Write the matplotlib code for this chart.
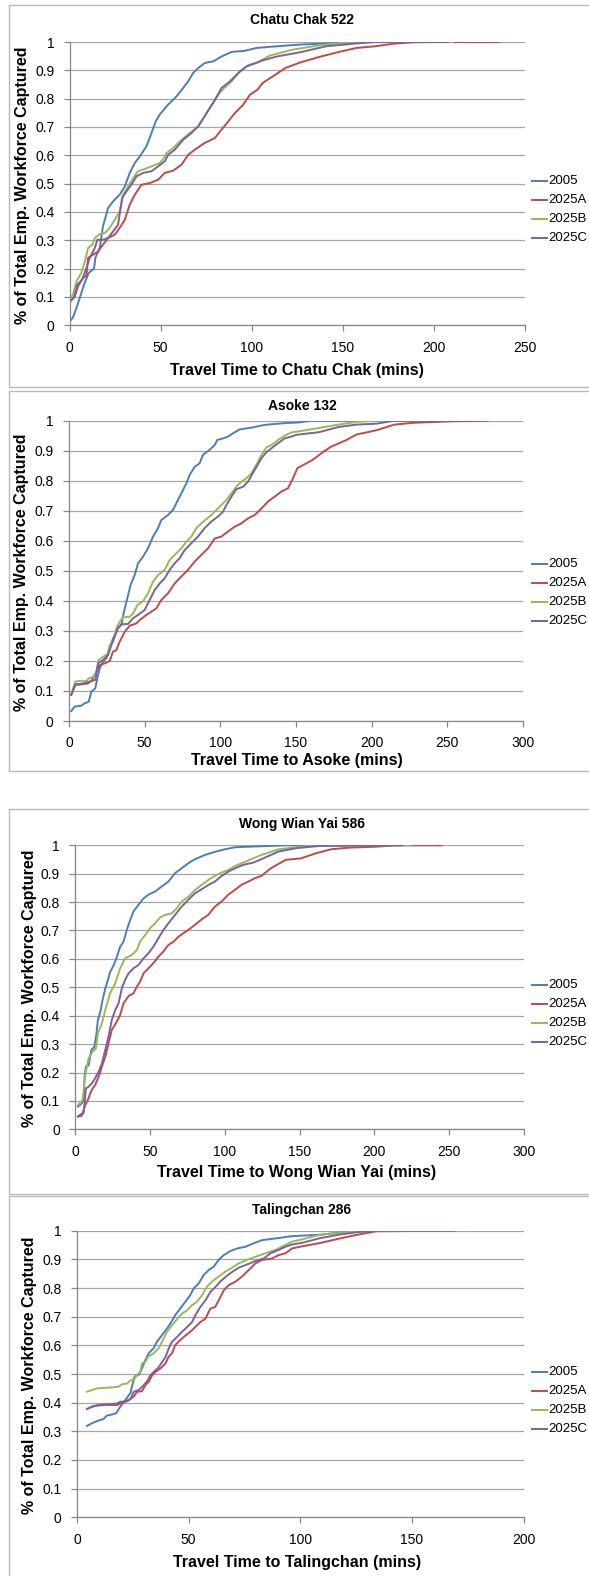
import matplotlib
matplotlib.use('Agg')
import matplotlib.pyplot as plt
from matplotlib.patches import Rectangle

plt.rcParams['font.family'] = ['Liberation Sans', 'DejaVu Sans']

# ---- data (minutes, share captured) ----
series_names = ['2005', '2025A', '2025B', '2025C']
series_colors = ['#4A7EBB', '#BE4B48', '#98B954', '#7D60A0']

# Chatu Chak 522
chatu_2005_t = [0.4, 1.8, 3.7, 5.5, 7.9, 10.5, 13.4, 14.1, 16.5, 18.3, 21.1, 23.9, 27.5, 30.3, 33.0, 35.8, 38.5, 42.2, 45.0, 47.3, 49.5, 54.1, 58.7, 62.4, 65.1, 67.9, 70.6, 74.3, 79.0, 83.5, 89.0, 96.3, 102.8, 110, 126.8, 147, 160, 200]
chatu_2005_p = [0.016, 0.028, 0.061, 0.096, 0.144, 0.185, 0.20, 0.238, 0.273, 0.35, 0.414, 0.438, 0.461, 0.49, 0.538, 0.573, 0.596, 0.632, 0.679, 0.72, 0.744, 0.779, 0.808, 0.838, 0.861, 0.891, 0.908, 0.926, 0.932, 0.949, 0.965, 0.969, 0.979, 0.983, 0.991, 0.996, 1.0, 1.0]
chatu_a_t = [0.4, 2.8, 4.6, 7.3, 9.2, 10.1, 12.8, 15.6, 18.3, 21.1, 24.8, 27.5, 30.3, 33.0, 35.8, 39.4, 44.0, 48.6, 52.3, 56.9, 61.5, 65.1, 68.8, 74.3, 79.8, 83.5, 87.2, 90.8, 95.4, 99.1, 103.3, 106, 110.3, 118.5, 126.8, 137, 147.4, 157.7, 168, 178, 188.7, 200, 235.6]
chatu_a_p = [0.085, 0.102, 0.138, 0.167, 0.176, 0.238, 0.249, 0.261, 0.285, 0.308, 0.32, 0.344, 0.373, 0.426, 0.461, 0.496, 0.502, 0.514, 0.538, 0.546, 0.567, 0.602, 0.62, 0.644, 0.661, 0.691, 0.72, 0.749, 0.779, 0.814, 0.832, 0.855, 0.873, 0.908, 0.928, 0.947, 0.964, 0.979, 0.985, 0.994, 0.999, 1.0, 1.0]
chatu_b_t = [0.4, 1.8, 3.7, 6.4, 8.6, 10.1, 12.5, 13.8, 16.5, 19.3, 22.0, 24.8, 27.5, 29.4, 32.1, 34.9, 37.6, 41.3, 45.0, 49.5, 51.9, 53.2, 56.9, 61.5, 66.1, 70.6, 74.3, 78.0, 81.7, 85.3, 89.0, 93.6, 98.2, 103.7, 106, 110, 122.6, 137, 151.5, 160, 210]
chatu_b_p = [0.096, 0.108, 0.155, 0.185, 0.232, 0.273, 0.285, 0.308, 0.322, 0.326, 0.344, 0.373, 0.402, 0.461, 0.491, 0.52, 0.544, 0.552, 0.561, 0.573, 0.591, 0.608, 0.626, 0.655, 0.679, 0.702, 0.738, 0.779, 0.814, 0.84, 0.861, 0.896, 0.918, 0.929, 0.938, 0.952, 0.973, 0.988, 0.998, 1.0, 1.0]
chatu_c_t = [0.4, 2.4, 4.2, 6.8, 9.2, 11.0, 13.8, 15.2, 18.3, 21.1, 23.9, 26.6, 28.8, 31.2, 33.9, 36.7, 40.4, 45.0, 48.6, 52.3, 54.1, 57.8, 62.4, 67.0, 70.6, 75.2, 78.9, 83.5, 88.1, 92.7, 97.2, 103.7, 106, 114, 126.8, 141, 157.7, 168, 208]
chatu_c_p = [0.085, 0.099, 0.144, 0.161, 0.202, 0.238, 0.273, 0.302, 0.302, 0.308, 0.332, 0.355, 0.449, 0.473, 0.496, 0.526, 0.538, 0.544, 0.561, 0.579, 0.602, 0.62, 0.655, 0.679, 0.702, 0.749, 0.785, 0.838, 0.861, 0.891, 0.914, 0.929, 0.935, 0.949, 0.964, 0.985, 0.995, 1.0, 1.0]

# Asoke 132
asoke_2005_t = [1.5, 3.7, 8.1, 10.4, 13.0, 14.8, 17.4, 18.7, 20.3, 22.5, 24.7, 26.9, 29.1, 32.4, 34.6, 36.3, 38.5, 40.7, 43.4, 45.6, 48.9, 52.2, 55.5, 58.8, 61.0, 65.4, 68.7, 70.9, 74.2, 77.6, 79.8, 83.1, 86.3, 88.5, 92.9, 96.3, 98.0, 101.8, 105.0, 108.4, 112.8, 120.5, 129.3, 142.5, 151.3, 160, 220]
asoke_2005_p = [0.033, 0.048, 0.051, 0.059, 0.064, 0.098, 0.109, 0.142, 0.175, 0.198, 0.209, 0.242, 0.275, 0.309, 0.32, 0.364, 0.408, 0.453, 0.486, 0.525, 0.547, 0.575, 0.614, 0.642, 0.669, 0.686, 0.703, 0.725, 0.758, 0.792, 0.82, 0.847, 0.858, 0.886, 0.903, 0.919, 0.936, 0.941, 0.947, 0.958, 0.971, 0.977, 0.986, 0.992, 0.994, 1.0, 1.0]
asoke_a_t = [1.5, 4.2, 8.1, 12.6, 15.2, 18.1, 20.3, 23.6, 26.9, 29.1, 31.3, 33.5, 36.8, 40.1, 44.5, 46.7, 51.1, 54.4, 57.7, 61.0, 65.4, 69.8, 74.2, 78.6, 83.1, 87.4, 91.9, 96.3, 100.7, 105.0, 109.5, 113.9, 118.3, 122.7, 127.2, 131.5, 135.9, 140.3, 144.7, 148.0, 150.9, 160.5, 168, 173, 183, 190, 203, 215, 227.5, 252, 276.7]
asoke_a_p = [0.087, 0.12, 0.122, 0.125, 0.137, 0.164, 0.186, 0.192, 0.2, 0.231, 0.236, 0.264, 0.297, 0.317, 0.325, 0.336, 0.353, 0.364, 0.375, 0.403, 0.425, 0.458, 0.481, 0.503, 0.531, 0.553, 0.575, 0.608, 0.614, 0.631, 0.647, 0.658, 0.675, 0.686, 0.708, 0.731, 0.747, 0.764, 0.775, 0.808, 0.842, 0.868, 0.896, 0.913, 0.935, 0.954, 0.968, 0.987, 0.993, 0.998, 1.0]
asoke_b_t = [1.5, 4.2, 5.9, 11.5, 13.0, 16.5, 18.1, 19.6, 22.5, 25.3, 26.9, 29.1, 31.3, 33.5, 35.7, 40.1, 42.3, 45.2, 48.9, 52.2, 55.5, 58.8, 63.2, 66.5, 69.8, 74.2, 77.5, 80.8, 84.1, 87.4, 90.7, 94.1, 97.4, 100.7, 104.0, 107.3, 110.6, 114.0, 117.2, 120.5, 123.8, 127.2, 130.4, 134.8, 138.1, 142.5, 146.9, 151.3, 165.5, 178, 190, 203, 210]
asoke_b_p = [0.089, 0.131, 0.133, 0.133, 0.142, 0.148, 0.164, 0.203, 0.214, 0.222, 0.253, 0.264, 0.309, 0.331, 0.345, 0.347, 0.358, 0.386, 0.399, 0.425, 0.464, 0.486, 0.503, 0.536, 0.553, 0.575, 0.597, 0.614, 0.642, 0.658, 0.672, 0.686, 0.703, 0.719, 0.736, 0.758, 0.781, 0.797, 0.808, 0.825, 0.853, 0.886, 0.911, 0.922, 0.936, 0.95, 0.961, 0.964, 0.976, 0.987, 0.996, 1.0, 1.0]
asoke_c_t = [1.5, 4.2, 9.3, 13.6, 17.4, 19.2, 22.5, 25.8, 28.0, 30.2, 32.4, 34.6, 39.0, 42.3, 45.6, 50.0, 53.3, 56.6, 59.9, 63.2, 66.5, 69.8, 73.1, 76.4, 80.8, 85.2, 89.6, 94.0, 98.5, 101.8, 104.0, 107.3, 110.6, 115.0, 118.3, 122.7, 127.2, 130.4, 133.7, 138.1, 142.5, 146.9, 150.2, 165.5, 178, 190, 203, 215, 250]
asoke_c_p = [0.087, 0.122, 0.125, 0.131, 0.137, 0.192, 0.203, 0.22, 0.253, 0.281, 0.309, 0.322, 0.323, 0.342, 0.353, 0.37, 0.403, 0.436, 0.458, 0.475, 0.503, 0.525, 0.542, 0.569, 0.592, 0.614, 0.642, 0.664, 0.681, 0.697, 0.719, 0.747, 0.772, 0.78, 0.797, 0.836, 0.875, 0.895, 0.908, 0.925, 0.941, 0.947, 0.953, 0.962, 0.979, 0.987, 0.99, 1.0, 1.0]

# Wong Wian Yai 586
wong_2005_t = [1.8, 4.4, 5.6, 6.2, 7.1, 8.9, 10.7, 12.7, 14.0, 15.1, 16.7, 18.2, 20.0, 21.8, 23.3, 25.6, 27.8, 30.0, 32.2, 34.4, 36.7, 38.9, 42.2, 45.6, 48.9, 53.3, 57.8, 62.2, 66.7, 71.1, 75.6, 80.0, 86.7, 93.3, 100.0, 106.7, 115.6, 141, 180]
wong_2005_p = [0.08, 0.092, 0.103, 0.185, 0.221, 0.225, 0.279, 0.29, 0.331, 0.385, 0.413, 0.455, 0.495, 0.526, 0.554, 0.577, 0.607, 0.643, 0.66, 0.702, 0.737, 0.767, 0.79, 0.813, 0.826, 0.837, 0.855, 0.872, 0.902, 0.919, 0.937, 0.951, 0.966, 0.977, 0.986, 0.993, 0.995, 1.0, 1.0]
wong_a_t = [1.8, 4.9, 6.7, 8.4, 10.0, 11.6, 13.3, 16.0, 18.2, 20.4, 22.2, 24.4, 27.1, 30.0, 32.2, 35.6, 38.9, 41.1, 43.3, 45.6, 48.9, 52.2, 55.6, 58.9, 62.2, 65.6, 68.9, 72.2, 75.6, 80.0, 84.4, 88.9, 93.3, 97.8, 102.2, 106.7, 111.1, 115.6, 120.0, 124.4, 130.7, 140.8, 150.9, 161, 171, 183.6, 201, 213.9, 245]
wong_a_p = [0.045, 0.057, 0.086, 0.103, 0.127, 0.144, 0.156, 0.191, 0.227, 0.262, 0.303, 0.35, 0.373, 0.403, 0.443, 0.469, 0.479, 0.502, 0.52, 0.549, 0.567, 0.585, 0.608, 0.626, 0.649, 0.66, 0.678, 0.69, 0.702, 0.72, 0.739, 0.755, 0.784, 0.802, 0.826, 0.843, 0.861, 0.872, 0.884, 0.892, 0.919, 0.949, 0.954, 0.972, 0.986, 0.992, 0.995, 1.0, 1.0]
wong_b_t = [1.8, 4.0, 4.9, 6.2, 7.3, 8.9, 11.6, 13.8, 15.1, 17.8, 20.0, 23.3, 26.7, 30.0, 33.3, 37.8, 41.1, 43.3, 46.7, 50.0, 53.3, 56.7, 60.0, 64.4, 67.8, 71.1, 75.6, 80.0, 84.4, 88.9, 93.3, 97.8, 102.2, 106.7, 112.2, 118.9, 124.4, 135.8, 151, 163.5, 224]
wong_b_p = [0.086, 0.097, 0.103, 0.174, 0.209, 0.25, 0.273, 0.285, 0.338, 0.373, 0.42, 0.479, 0.514, 0.567, 0.602, 0.614, 0.631, 0.661, 0.684, 0.708, 0.725, 0.746, 0.755, 0.76, 0.778, 0.802, 0.819, 0.843, 0.86, 0.878, 0.892, 0.904, 0.913, 0.927, 0.939, 0.954, 0.966, 0.986, 0.995, 1.0, 1.0]
wong_c_t = [1.8, 4.0, 5.6, 7.1, 8.9, 11.1, 13.3, 15.6, 17.8, 20.0, 22.2, 24.4, 26.7, 28.9, 31.1, 33.3, 35.6, 38.9, 42.2, 45.6, 48.9, 52.2, 55.6, 58.9, 62.2, 66.7, 71.1, 75.6, 80.0, 84.4, 88.9, 93.3, 97.8, 102.2, 106.7, 112.2, 118.9, 124.4, 135.8, 148, 163.5, 219]
wong_c_p = [0.045, 0.047, 0.059, 0.144, 0.15, 0.162, 0.18, 0.203, 0.232, 0.279, 0.326, 0.385, 0.42, 0.443, 0.496, 0.526, 0.549, 0.567, 0.578, 0.602, 0.62, 0.643, 0.673, 0.702, 0.725, 0.755, 0.784, 0.808, 0.831, 0.845, 0.86, 0.872, 0.892, 0.907, 0.919, 0.931, 0.939, 0.951, 0.978, 0.99, 0.998, 1.0]

# Talingchan 286
taling_2005_t = [4.5, 6.7, 9.0, 11.9, 13.4, 15.7, 17.5, 19.4, 21.6, 23.9, 24.6, 25.8, 27.9, 29.1, 30.6, 32.1, 34.3, 35.8, 38.1, 40.3, 41.8, 44.0, 46.3, 48.5, 50.7, 52.2, 54.5, 56.7, 59.0, 61.2, 63.4, 65.7, 68.7, 71.6, 75.4, 79.1, 82.8, 88.8, 96.3, 108.8, 125.6, 160]
taling_2005_p = [0.319, 0.328, 0.336, 0.343, 0.355, 0.359, 0.363, 0.386, 0.409, 0.433, 0.456, 0.491, 0.499, 0.52, 0.549, 0.572, 0.59, 0.613, 0.636, 0.659, 0.676, 0.706, 0.729, 0.752, 0.775, 0.798, 0.816, 0.845, 0.863, 0.874, 0.898, 0.915, 0.929, 0.938, 0.944, 0.956, 0.967, 0.973, 0.981, 0.986, 1.0, 1.0]
taling_a_t = [4.5, 6.7, 9.0, 12.7, 15.7, 17.9, 20.9, 23.1, 25.4, 26.9, 29.1, 30.6, 32.1, 33.6, 35.1, 37.3, 39.6, 41.0, 42.5, 44.0, 46.3, 48.5, 50.7, 53.0, 55.2, 57.5, 59.7, 61.9, 64.2, 65.7, 67.9, 70.9, 73.9, 76.9, 79.9, 82.8, 87.3, 90.3, 93.3, 96.3, 100.4, 108.8, 117.2, 125.6, 134, 169]
taling_a_p = [0.378, 0.386, 0.39, 0.392, 0.392, 0.392, 0.401, 0.409, 0.421, 0.438, 0.44, 0.461, 0.472, 0.495, 0.507, 0.519, 0.537, 0.56, 0.572, 0.601, 0.619, 0.634, 0.647, 0.664, 0.681, 0.693, 0.728, 0.734, 0.769, 0.792, 0.81, 0.822, 0.84, 0.863, 0.886, 0.898, 0.903, 0.915, 0.921, 0.938, 0.945, 0.957, 0.972, 0.986, 0.998, 1.0]
taling_b_t = [4.5, 6.7, 9.0, 12.7, 15.7, 18.7, 20.1, 22.4, 23.9, 25.8, 26.9, 28.4, 29.1, 30.6, 31.8, 34.3, 36.6, 38.1, 40.3, 42.5, 44.8, 47.0, 49.3, 51.5, 53.7, 56.0, 58.2, 60.4, 63.4, 66.4, 69.4, 72.4, 76.1, 79.9, 84.3, 88.8, 93.3, 96.3, 100.4, 108.8, 117.2, 125.6, 130, 167.7]
taling_b_p = [0.438, 0.444, 0.45, 0.452, 0.453, 0.456, 0.464, 0.467, 0.477, 0.483, 0.497, 0.508, 0.537, 0.543, 0.56, 0.572, 0.59, 0.613, 0.647, 0.67, 0.691, 0.711, 0.722, 0.74, 0.752, 0.775, 0.805, 0.822, 0.84, 0.857, 0.871, 0.886, 0.898, 0.909, 0.921, 0.933, 0.95, 0.962, 0.969, 0.986, 0.992, 0.998, 1.0, 1.0]
taling_c_t = [4.5, 6.7, 9.0, 12.7, 15.7, 17.9, 19.4, 22.4, 23.9, 25.4, 27.6, 29.9, 31.3, 32.8, 34.3, 36.6, 38.1, 39.6, 41.0, 42.5, 44.8, 47.0, 49.3, 51.5, 53.0, 55.2, 57.5, 59.7, 61.9, 64.2, 66.4, 69.4, 72.4, 76.1, 79.9, 83.6, 86.6, 90.3, 93.3, 96.3, 100.4, 108.8, 117.2, 125.6, 134, 168]
taling_c_p = [0.378, 0.386, 0.391, 0.394, 0.395, 0.397, 0.403, 0.405, 0.412, 0.438, 0.444, 0.461, 0.474, 0.495, 0.507, 0.524, 0.542, 0.559, 0.588, 0.612, 0.629, 0.647, 0.664, 0.681, 0.705, 0.734, 0.757, 0.786, 0.803, 0.823, 0.838, 0.856, 0.871, 0.882, 0.894, 0.903, 0.921, 0.933, 0.944, 0.952, 0.957, 0.974, 0.986, 0.995, 1.0, 1.0]

panel_titles = ['Chatu Chak 522', 'Asoke 132', 'Wong Wian Yai 586', 'Talingchan 286']
panel_xlabels = ['Travel Time to Chatu Chak (mins)', 'Travel Time to Asoke (mins)',
                 'Travel Time to Wong Wian Yai (mins)', 'Travel Time to Talingchan (mins)']
panel_xmax = [250, 300, 300, 200]
y_ticks = [0, 0.1, 0.2, 0.3, 0.4, 0.5, 0.6, 0.7, 0.8, 0.9, 1]
y_ticklabels = ['0', '0.1', '0.2', '0.3', '0.4', '0.5', '0.6', '0.7', '0.8', '0.9', '1']
ylabel_text = '% of Total Emp. Workforce Captured'

panel_series = [
    [(chatu_2005_t, chatu_2005_p), (chatu_a_t, chatu_a_p), (chatu_b_t, chatu_b_p), (chatu_c_t, chatu_c_p)],
    [(asoke_2005_t, asoke_2005_p), (asoke_a_t, asoke_a_p), (asoke_b_t, asoke_b_p), (asoke_c_t, asoke_c_p)],
    [(wong_2005_t, wong_2005_p), (wong_a_t, wong_a_p), (wong_b_t, wong_b_p), (wong_c_t, wong_c_p)],
    [(taling_2005_t, taling_2005_p), (taling_a_t, taling_a_p), (taling_b_t, taling_b_p), (taling_c_t, taling_c_p)],
]

# ---- layout, in pixels of the 589x1576 picture ----
W, H = 589, 1576
# axes box: left, right, top(y=1), bottom(y=0)
axes_px = [(69.7, 524.5, 42.0, 325.3), (69.0, 523.0, 420.7, 721.0),
           (75.3, 524.0, 845.3, 1129.3), (77.0, 523.7, 1230.7, 1517.3)]
frames_px = [(5, 387), (391, 771), (809, 1194), (1196, 1590)]
title_y = [20, 405.7, 824.3, 1210]
xlabel_y = [370, 761, 1172, 1562]
ylabel_pos = [(22.5, 185), (21.5, 572), (29.3, 988), (29.3, 1375)]
legend_y0 = [181, 564, 985, 1372]

fig = plt.figure(figsize=(W / 100, H / 100), dpi=100)

def fx(px):
    return px / W

def fy(py):
    return 1 - py / H

for i in range(4):
    top, bot = frames_px[i]
    fig.add_artist(Rectangle((fx(9), fy(bot)), fx(640) - fx(9), fy(top) - fy(bot),
                             transform=fig.transFigure, facecolor='white',
                             edgecolor='#b9b9b9', linewidth=1.0, zorder=0))

    l, r, t, b = axes_px[i]
    ax = fig.add_axes([fx(l), fy(b), fx(r) - fx(l), fy(t) - fy(b)])
    ax.set_zorder(2)
    ax.patch.set_alpha(0)
    for j, (tt, pp) in enumerate(panel_series[i]):
        ax.plot(tt, pp, color=series_colors[j], linewidth=1.4, label=series_names[j],
                solid_joinstyle='round')
    ax.set_xlim(0, panel_xmax[i])
    ax.set_ylim(0, 1)
    ax.set_xticks(list(range(0, panel_xmax[i] + 1, 50)))
    ax.set_yticks(y_ticks)
    ax.set_yticklabels(y_ticklabels)
    ax.yaxis.grid(True, color='#a5a5a5', linewidth=0.9)
    ax.set_axisbelow(True)
    for s in ['top', 'right']:
        ax.spines[s].set_visible(False)
    for s in ['left', 'bottom']:
        ax.spines[s].set_color('#868686')
        ax.spines[s].set_linewidth(0.9)
    ax.tick_params(direction='out', length=4, width=0.9, color='#868686',
                   labelsize=10, labelcolor='black', pad=7)

    fig.text(fx(302), fy(title_y[i]), panel_titles[i], ha='center', va='center',
             fontsize=10, fontweight='bold')
    fig.text(fx(297), fy(xlabel_y[i]), panel_xlabels[i], ha='center', va='center',
             fontsize=11.5, fontweight='bold')
    fig.text(fx(ylabel_pos[i][0]), fy(ylabel_pos[i][1]), ylabel_text, ha='center',
             va='center', rotation=90, fontsize=11.5, fontweight='bold')

    # legend drawn as short lines plus labels
    for j in range(4):
        yy = legend_y0[i] + j * 19
        fig.add_artist(plt.Line2D([fx(532), fx(547)], [fy(yy), fy(yy)],
                                  transform=fig.transFigure, color=series_colors[j],
                                  linewidth=1.4))
        fig.text(fx(548.5), fy(yy), series_names[j], ha='left', va='center', fontsize=9.5)

fig.savefig('out.png', dpi=100)
